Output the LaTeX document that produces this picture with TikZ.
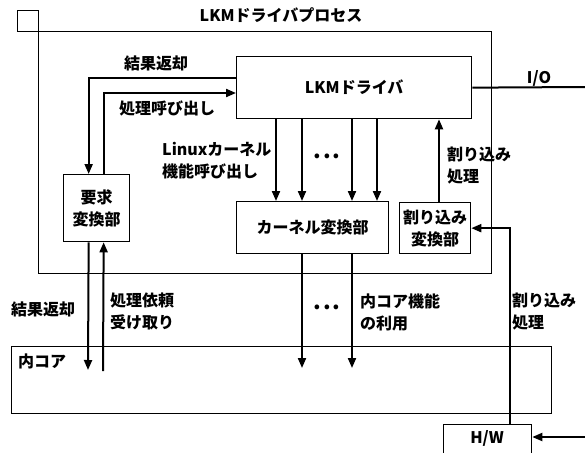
\documentclass[tikz,border=0pt]{standalone}
\usepackage{fontspec}
\setmainfont{Noto Sans CJK JP}
\usetikzlibrary{arrows.meta,calc}
\tikzset{
  box/.style={draw, line width=1.3pt, inner sep=0pt, anchor=north west, align=center,
              font=\fontsize{16}{22}\selectfont\bfseries},
  thinbox/.style={draw, line width=1pt, inner sep=0pt, anchor=north west},
  arr/.style={line width=2pt, -{Triangle[length=10pt,width=8pt]}},
  plain/.style={line width=2pt},
  lbl/.style={inner sep=0pt, align=left, font=\fontsize{16}{22}\selectfont\bfseries},
  dots/.style={inner sep=0pt, font=\fontsize{22}{22}\selectfont\bfseries},
}
\begin{document}
\begin{tikzpicture}[x=1pt,y=-1pt]
\useasboundingbox (0,0) rectangle (585,452);
% frames
\node[thinbox, minimum width=21pt, minimum height=21pt] (tab) at (17,10) {};
\node[thinbox, minimum width=453pt, minimum height=242pt] (proc) at (38,31) {};
\node[lbl] (title) at (281,15) {LKMドライバプロセス};
% boxes
\node[box, minimum width=235pt, minimum height=62pt] (drv) at (236,56) {LKMドライバ};
\node[box, minimum width=66pt, minimum height=67pt] (req) at (63,174) {要求\\変換部};
\node[box, minimum width=152pt, minimum height=52pt] (kern) at (236,201) {カーネル変換部};
\node[box, minimum width=71pt, minimum height=51pt] (irq) at (399,202) {割り込み\\変換部};
\node[thinbox, line width=1.3pt, minimum width=540pt, minimum height=67pt] (core) at (11,346) {};
\node[lbl, anchor=west] (corel) at (18,361) {内コア};
\node[thinbox, line width=1.3pt, minimum width=88pt, minimum height=40pt] (hw) at (443,424) {};
\node[lbl] (hwl) at (487,438) {H/W};
% free ends
\coordinate (io) at (585,87);
\coordinate (ret2) at (88,370);
\coordinate (recv) at (103,371);
\coordinate (use1) at (302,368);
\coordinate (use2) at (352,368);
\coordinate (hwin) at (585,437);
% connectors
\draw[arr] ($(drv.north west)+(0,22)$) -| ($(req.north)+(-8,0)$);
\draw[arr] ($(req.north)+(7,0)$) |- ($(drv.north west)+(0,37)$);
\draw[arr] ($(req.south)+(-8,0)$) -- (ret2);
\draw[arr] (recv) -- ($(req.south)+(7,0)$);
\foreach \x in {276,302,352,377} \draw[arr] (drv.south -| \x,0) -- (kern.north -| \x,0);
\draw[arr] (kern.south -| use1) -- (use1);
\draw[arr] (kern.south -| use2) -- (use2);
\draw[arr] (irq.north -| 439,0) -- (drv.south -| 439,0);
\draw[arr] (hw.north -| 510,0) |- (irq.east);
\draw[plain] (drv.east) -- (io);
\draw[arr] (hwin) -- (hwin -| hw.east);
% labels
\node[lbl] (l1) at (156,63) {結果返却};
\node[lbl] (l2) at (167,108) {処理呼び出し};
\node[lbl, anchor=west] (l3) at (162,161) {Linuxカーネル\\機能呼び出し};
\node[dots] (d1) at (327,156) {.\hspace{2pt}.\hspace{2pt}.};
\node[lbl, anchor=west] (l4) at (447,166) {割り込み\\処理};
\node[lbl] (l5) at (539,78) {I/O};
\node[lbl] (l6) at (43,309) {結果返却};
\node[lbl, anchor=west] (l7) at (110,311) {処理依頼\\受け取り};
\node[dots] (d2) at (327,307) {.\hspace{2pt}.\hspace{2pt}.};
\node[lbl, anchor=west] (l8) at (360,312) {内コア機能\\の利用};
\node[lbl, anchor=west] (l9) at (512,312) {割り込み\\処理};
\end{tikzpicture}
\end{document}
